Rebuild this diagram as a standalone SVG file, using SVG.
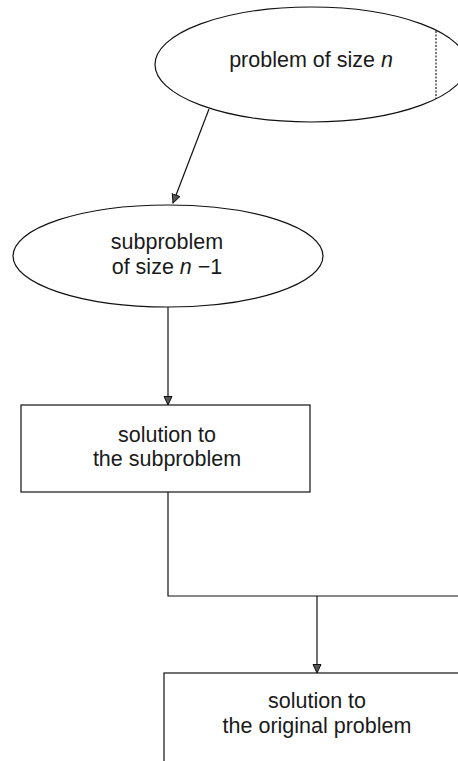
<svg xmlns="http://www.w3.org/2000/svg" width="458" height="761" viewBox="0 0 458 761">
  <style>
    .shape { fill: none; stroke: #111; stroke-width: 1.2; }
    .wire { fill: none; stroke: #111; stroke-width: 1.2; }
    .label { font-family: "Liberation Sans", Arial, sans-serif; font-size: 21.5px; fill: #1a1a1a; text-anchor: middle; }
    .var { font-style: italic; }
  </style>
  <defs>
    <marker id="head" markerWidth="11" markerHeight="11" refX="9" refY="4.5" orient="auto" markerUnits="userSpaceOnUse">
      <path d="M0.5,0.5 L9,4.5 L0.5,8.5 z" fill="#555" stroke="#111" stroke-width="1"/>
    </marker>
  </defs>
  <rect width="458" height="761" fill="#ffffff"/>

  <g id="problem">
    <ellipse class="shape" cx="311" cy="64.5" rx="156" ry="57.5"/>
    <line x1="436" y1="31" x2="436" y2="99" stroke="#111" stroke-width="1.1" stroke-dasharray="2,1.5"/>
    <text class="label" x="311" y="67">problem of size <tspan class="var">n</tspan></text>
  </g>

  <g id="subproblem">
    <ellipse class="shape" cx="168" cy="256" rx="155" ry="51"/>
    <text class="label" x="167" y="249">subproblem</text>
    <text class="label" x="167" y="274">of size <tspan class="var">n</tspan> −1</text>
  </g>

  <g id="sub-solution">
    <rect class="shape" x="21" y="405" width="289" height="87"/>
    <text class="label" x="167" y="442">solution to</text>
    <text class="label" x="167" y="466">the subproblem</text>
  </g>

  <g id="solution">
    <rect class="shape" x="164" y="673" width="320" height="110"/>
    <text class="label" x="317" y="708">solution to</text>
    <text class="label" x="317" y="733">the original problem</text>
  </g>

  <g id="connectors">
    <line class="wire" x1="209" y1="109" x2="173" y2="203" marker-end="url(#head)"/>
    <line class="wire" x1="168" y1="307" x2="168" y2="405" marker-end="url(#head)"/>
    <polyline class="wire" points="168,492 168,596 470,596"/>
    <line class="wire" x1="317" y1="596" x2="317" y2="673" marker-end="url(#head)"/>
  </g>
</svg>
